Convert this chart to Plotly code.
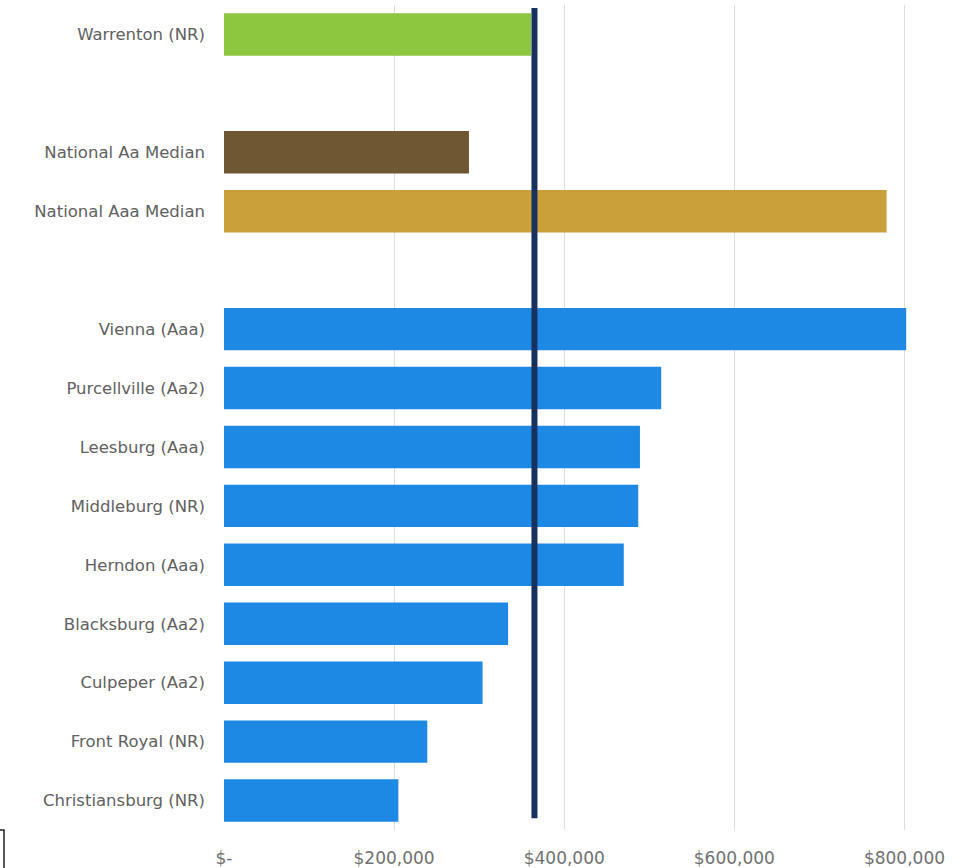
import plotly.graph_objects as go

# Per-capita figures by locality, top to bottom; blank strings are spacer rows
categories = [
    "Warrenton (NR)", " ",
    "National Aa Median", "National Aaa Median", "  ",
    "Vienna (Aaa)", "Purcellville (Aa2)", "Leesburg (Aaa)", "Middleburg (NR)",
    "Herndon (Aaa)", "Blacksburg (Aa2)", "Culpeper (Aa2)", "Front Royal (NR)",
    "Christiansburg (NR)",
]
values = [
    361000, None,
    288000, 779000, None,
    802000, 514000, 489000, 487000,
    470000, 334000, 304000, 239000,
    205000,
]
colors = [
    "#8DC63F", "#ffffff",
    "#6E5732", "#C9A03A", "#ffffff",
    "#1E88E5", "#1E88E5", "#1E88E5", "#1E88E5",
    "#1E88E5", "#1E88E5", "#1E88E5", "#1E88E5",
    "#1E88E5",
]
reference_value = 365000

tick_vals = [0, 200000, 400000, 600000, 800000]
tick_text = ["$-", "$200,000", "$400,000", "$600,000", "$800,000"]

W, H = 968, 868
ML, MR, MT, MB = 224, 21, 5, 38

fig = go.Figure(
    go.Bar(
        x=values,
        y=categories,
        orientation="h",
        marker=dict(color=colors, line=dict(width=0)),
        width=0.72,
        hoverinfo="x+y",
    )
)

# Vertical benchmark line across all rows
fig.add_shape(
    type="line", xref="x", yref="y",
    x0=reference_value, x1=reference_value, y0=-0.45, y1=13.3,
    line=dict(color="#17325E", width=6),
)

# Small bracket mark in the lower-left corner
plot_w = W - ML - MR
plot_h = H - MT - MB
def px_x(p):
    return (p - ML) / plot_w
def px_y(p):
    return (H - MB - p) / plot_h
fig.add_shape(
    type="path", xref="paper", yref="paper",
    path=f"M {px_x(0)},{px_y(830)} L {px_x(4)},{px_y(830)} L {px_x(4)},{px_y(868)}",
    line=dict(color="#222222", width=1.5),
)

fig.update_layout(
    width=W, height=H,
    margin=dict(l=ML, r=MR, t=MT, b=MB, pad=0, autoexpand=False),
    paper_bgcolor="white",
    plot_bgcolor="white",
    showlegend=False,
    font=dict(family="DejaVu Sans, sans-serif", size=16, color="#666666"),
    xaxis=dict(
        range=[0, 850000],
        tickvals=tick_vals,
        ticktext=tick_text,
        showgrid=True,
        gridcolor="#DDDDDD",
        gridwidth=1,
        zeroline=False,
        showline=False,
        ticks="",
        automargin=False,
        ticklabelstandoff=16,
        tickfont=dict(family="DejaVu Sans, sans-serif", size=17, color="#707070"),
        fixedrange=True,
    ),
    yaxis=dict(
        categoryorder="array",
        categoryarray=categories,
        range=[13.5, -0.5],
        showgrid=False,
        zeroline=False,
        showline=False,
        ticks="",
        automargin=False,
        ticklabelstandoff=18,
        tickfont=dict(family="DejaVu Sans, sans-serif", size=16.5, color="#606060"),
        fixedrange=True,
    ),
)

fig.write_html("out.html")
